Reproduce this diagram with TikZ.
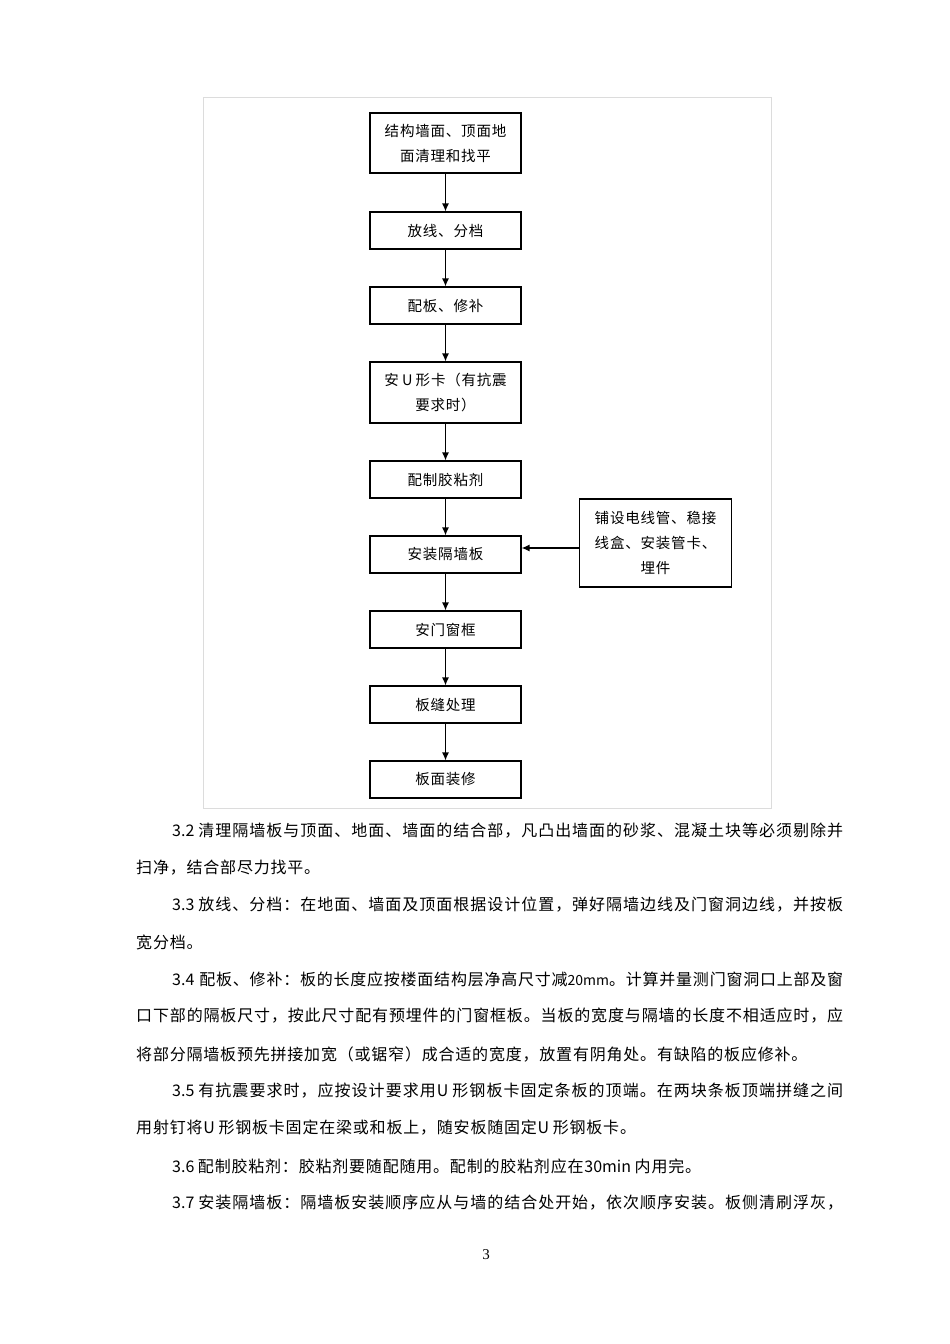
\documentclass[tikz,border=0pt]{standalone}
\usepackage{fontspec}
\usepackage{tikz}
\usetikzlibrary{arrows.meta}
\setmainfont{Noto Sans CJK SC}
\newfontfamily\pagenumfont{Liberation Serif}
\definecolor{framegray}{HTML}{DCDCDC}
% small gap between CJK characters, stretchable in justified lines
\newcommand\cjkgap{\hskip0.8pt plus 1pt minus 0.8pt\relax}
\newXeTeXintercharclass\cjkchar
\newXeTeXintercharclass\cjkopen
\newXeTeXintercharclass\cjkclose
\newcount\cjkcode
\cjkcode="4E00
\loop
  \XeTeXcharclass\cjkcode=\cjkchar
  \advance\cjkcode by 1
\ifnum\cjkcode<"A000 \repeat
\XeTeXcharclass"3001=\cjkclose
\XeTeXcharclass"3002=\cjkclose
\XeTeXcharclass"FF0C=\cjkclose
\XeTeXcharclass"FF1A=\cjkclose
\XeTeXcharclass"FF09=\cjkclose
\XeTeXcharclass"FF08=\cjkopen
\XeTeXinterchartokenstate=1
\XeTeXinterchartoks\cjkchar\cjkchar = {\cjkgap}
\XeTeXinterchartoks\cjkchar\cjkopen = {\cjkgap}
\XeTeXinterchartoks\cjkchar\cjkclose = {\cjkgap}
\XeTeXinterchartoks\cjkopen\cjkchar = {\cjkgap}
\XeTeXinterchartoks\cjkclose\cjkchar = {\cjkgap}
\XeTeXinterchartoks\cjkclose\cjkopen = {\cjkgap}
\XeTeXinterchartoks\cjkclose\cjkclose = {\cjkgap}
\XeTeXinterchartoks 0 \cjkchar = {\cjkgap}
\XeTeXinterchartoks\cjkchar 0 = {\cjkgap}
\XeTeXinterchartoks 0 \cjkclose = {\cjkgap}
\XeTeXinterchartoks\cjkclose 0 = {\cjkgap}
\newcommand\fullline[2]{\hbox to #1{#2}}
\tikzset{
  stepbox/.style = {draw, line width=1.1pt, minimum width=151, minimum height=37,
                    inner sep=0, align=center, font=\fontsize{14.5}{25}\selectfont},
  bodyline/.style = {anchor=west, inner sep=0, font=\fontsize{16}{16}\selectfont}
}

\begin{document}
\begin{tikzpicture}[x=1pt,y=-1pt]
	\tikzset{> = {Latex[length=8pt,width=7pt]}}
	\useasboundingbox[fill=white] (0,0) rectangle (950,1344);
	\draw[framegray, line width=1pt] (203,97) rectangle (771,808);
	% flow boxes
	\node[stepbox, minimum height=60] (clean) at (445.5,143) {结构墙面、顶面地\\面清理和找平};
	\node[stepbox] (setout) at (445.5,230.5) {放线、分档};
	\node[stepbox] (fitting) at (445.5,305.5) {配板、修补};
	\node[stepbox, minimum height=61] (ucard) at (445.5,392.5) {安 U 形卡（有抗震\\要求时）};
	\node[stepbox] (adhesive) at (445.5,479.5) {配制胶粘剂};
	\node[stepbox] (install) at (445.5,554.5) {安装隔墙板};
	\node[stepbox] (doorframe) at (445.5,629.5) {安门窗框};
	\node[stepbox] (seam) at (445.5,704.5) {板缝处理};
	\node[stepbox] (finish) at (445.5,779.5) {板面装修};
	\node[stepbox, minimum width=152, minimum height=88] (pipes) at (655.5,543) {铺设电线管、稳接\\线盒、安装管卡、\\埋件};
	\draw[->, line width=1.3pt] (clean) -- (setout);
	\draw[->, line width=1.3pt] (setout) -- (fitting);
	\draw[->, line width=1.3pt] (fitting) -- (ucard);
	\draw[->, line width=1.3pt] (ucard) -- (adhesive);
	\draw[->, line width=1.3pt] (adhesive) -- (install);
	\draw[->, line width=1.3pt] (install) -- (doorframe);
	\draw[->, line width=1.3pt] (doorframe) -- (seam);
	\draw[->, line width=1.3pt] (seam) -- (finish);
	\draw[->, line width=1.3pt] ([yshift=-5]pipes.west) -- ([yshift=-5]pipes.west -| install.east);
	% text below the chart
	\node[bodyline] (p32) at (172,831) {\fullline{671pt}{3.2 清理隔墙板与顶面、地面、墙面的结合部，凡凸出墙面的砂浆、混凝土块等必须剔除并}};
	\node[bodyline] (p32b) at (136,868) {扫净，结合部尽力找平。};
	\node[bodyline] (p33) at (172,905) {\fullline{671pt}{3.3 放线、分档：在地面、墙面及顶面根据设计位置，弹好隔墙边线及门窗洞边线，并按板}};
	\node[bodyline] (p33b) at (136,942) {宽分档。};
	\node[bodyline] (p34) at (172,979) {\fullline{671pt}{3.4\hskip5pt 配板、修补：板的长度应按楼面结构层净高尺寸减{\fontsize{14}{14}\selectfont 20mm}。计算并量测门窗洞口上部及窗}};
	\node[bodyline] (p34b) at (136,1016) {\fullline{707pt}{口下部的隔板尺寸，按此尺寸配有预埋件的门窗框板。当板的宽度与隔墙的长度不相适应时，应}};
	\node[bodyline] (p34c) at (136,1054) {将部分隔墙板预先拼接加宽（或锯窄）成合适的宽度，放置有阴角处。有缺陷的板应修补。};
	\node[bodyline] (p35) at (172,1091) {\fullline{671pt}{3.5 有抗震要求时，应按设计要求用U 形钢板卡固定条板的顶端。在两块条板顶端拼缝之间}};
	\node[bodyline] (p35b) at (136,1128) {用射钉将U 形钢板卡固定在梁或和板上，随安板随固定U 形钢板卡。};
	\node[bodyline] (p36) at (172,1166) {3.6 配制胶粘剂：胶粘剂要随配随用。配制的胶粘剂应在30min 内用完。};
	\node[bodyline] (p37) at (172,1203) {\fullline{671pt}{3.7 安装隔墙板：隔墙板安装顺序应从与墙的结合处开始，依次顺序安装。板侧清刷浮灰，}};
	\node[font=\pagenumfont\fontsize{15}{15}\selectfont, inner sep=0] (pagenum) at (486,1255) {3};
\end{tikzpicture}
\end{document}
